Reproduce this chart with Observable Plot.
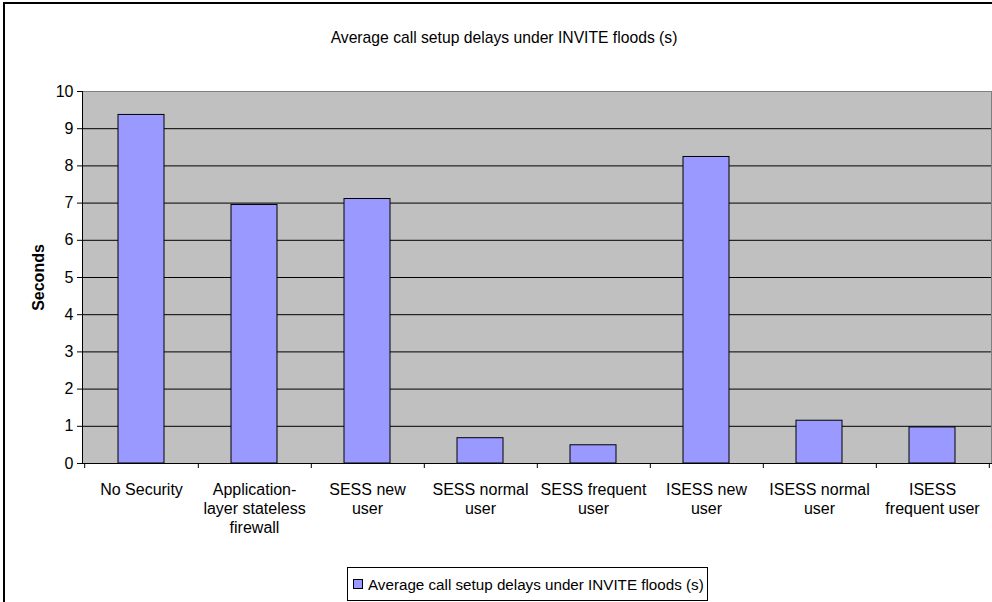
<!DOCTYPE html>
<html>
<head>
<meta charset="utf-8">
<script src="https://cdn.jsdelivr.net/npm/d3@7"></script>
<script src="https://cdn.jsdelivr.net/npm/@observablehq/plot@0.6"></script>
<style>
  html, body { margin: 0; padding: 0; background: #fff; }
  #chart { position: relative; width: 992px; height: 602px; overflow: hidden;
           font-family: "Liberation Sans", Arial, sans-serif; color: #000; background: #fff; }
  #edge { position: absolute; left: 3px; top: 2px; width: 1100px; height: 700px;
          border-left: 2px solid #000; border-top: 2px solid #000; }
  #title { position: absolute; left: 0; width: 1008px; top: 29px; text-align: center; font-size: 15.7px; }
  #plot { position: absolute; left: 0; top: 60px; }
  #legend { position: absolute; left: 347px; top: 567px; height: 32px; border: 1px solid #000;
            padding: 0 3px 0 5px; display: flex; align-items: center; font-size: 15.2px; background: #fff; }
  #legend .swatch { width: 8px; height: 8px; background: #9999ff; border: 1px solid #000; margin-right: 5px; }
</style>
</head>
<body>
<div id="chart">
  <div id="edge"></div>
  <div id="title"></div>
  <div id="plot"></div>
  <div id="legend"></div>
</div>
<script>
// Test configurations on the category axis
const categories = [
  "No Security",
  "Application-layer stateless firewall",
  "SESS new user",
  "SESS normal user",
  "SESS frequent user",
  "ISESS new user",
  "ISESS normal user",
  "ISESS frequent user"
];
// Wrapped labels shown under each bar
const tickLabels = [
  "No Security",
  "Application-\nlayer stateless\nfirewall",
  "SESS new\nuser",
  "SESS normal\nuser",
  "SESS frequent\nuser",
  "ISESS new\nuser",
  "ISESS normal\nuser",
  "ISESS\nfrequent user"
];
// Average call setup delay in seconds
const delays = [9.37, 6.95, 7.11, 0.68, 0.49, 8.24, 1.15, 0.97];
const yTicks = [0, 1, 2, 3, 4, 5, 6, 7, 8, 9, 10];
const seriesName = "Average call setup delays under INVITE floods (s)";
const axisTitle = "Seconds";

const rows = categories.map((category, i) => ({category, delay: delays[i]}));
const labelOf = new Map(categories.map((c, i) => [c, tickLabels[i]]));

const width = 992, height = 483;
const margin = {top: 31, right: 1, bottom: 80, left: 82};
const step = (width - margin.left - margin.right) / categories.length;
const barFrac = 0.595;

const chart = Plot.plot({
  width, height,
  marginTop: margin.top, marginRight: margin.right,
  marginBottom: margin.bottom, marginLeft: margin.left,
  style: {fontFamily: "'Liberation Sans', Arial, sans-serif", fontSize: "16px", background: "transparent", color: "#000", overflow: "visible"},
  x: {type: "band", domain: categories, paddingInner: barFrac, paddingOuter: barFrac / 2, axis: null},
  y: {domain: [0, 10], axis: null},
  marks: [
    Plot.frame({fill: "#c0c0c0", stroke: null}),
    // horizontal gridlines
    Plot.ruleY(yTicks.filter(v => v > 0 && v < 10), {stroke: "#000", strokeWidth: 1}),
    Plot.ruleY([10], {stroke: "#808080", strokeWidth: 1}),
    Plot.frame({anchor: "right", stroke: "#808080"}),
    // bars
    Plot.barY(rows, {x: "category", y: "delay", fill: "#9999ff", stroke: "#000", strokeWidth: 1}),
    // axis lines
    Plot.frame({anchor: "left", stroke: "#000"}),
    Plot.frame({anchor: "bottom", stroke: "#000"}),
    // y axis ticks and labels
    Plot.axisY(yTicks, {tickSize: 5, tickPadding: 4, label: null, fontSize: 16, tickFormat: d => String(d)}),
    // category boundary ticks below the baseline
    Plot.ruleX(categories, {x: d => d, dx: step / 2, y1: 0, y2: 0, insetBottom: -5, stroke: "#000"}),
    Plot.ruleX([categories[0]], {x: d => d, dx: -step / 2, y1: 0, y2: 0, insetBottom: -5, stroke: "#000"}),
    // category labels
    Plot.axisX({tickSize: 0, tickPadding: 18, label: null, fontSize: 16, lineHeight: 1.19,
                tickFormat: d => labelOf.get(d)}),
    // y axis title, centred on the plot height
    Plot.text([axisTitle], {frameAnchor: "left", textAnchor: "middle", rotate: -90, dx: -44, fontWeight: "bold", fontSize: 16})
  ]
});

document.getElementById("plot").appendChild(chart);
document.getElementById("title").textContent = seriesName;
const legend = document.getElementById("legend");
const sw = document.createElement("span");
sw.className = "swatch";
const lt = document.createElement("span");
lt.textContent = seriesName;
legend.append(sw, lt);
</script>
</body>
</html>
